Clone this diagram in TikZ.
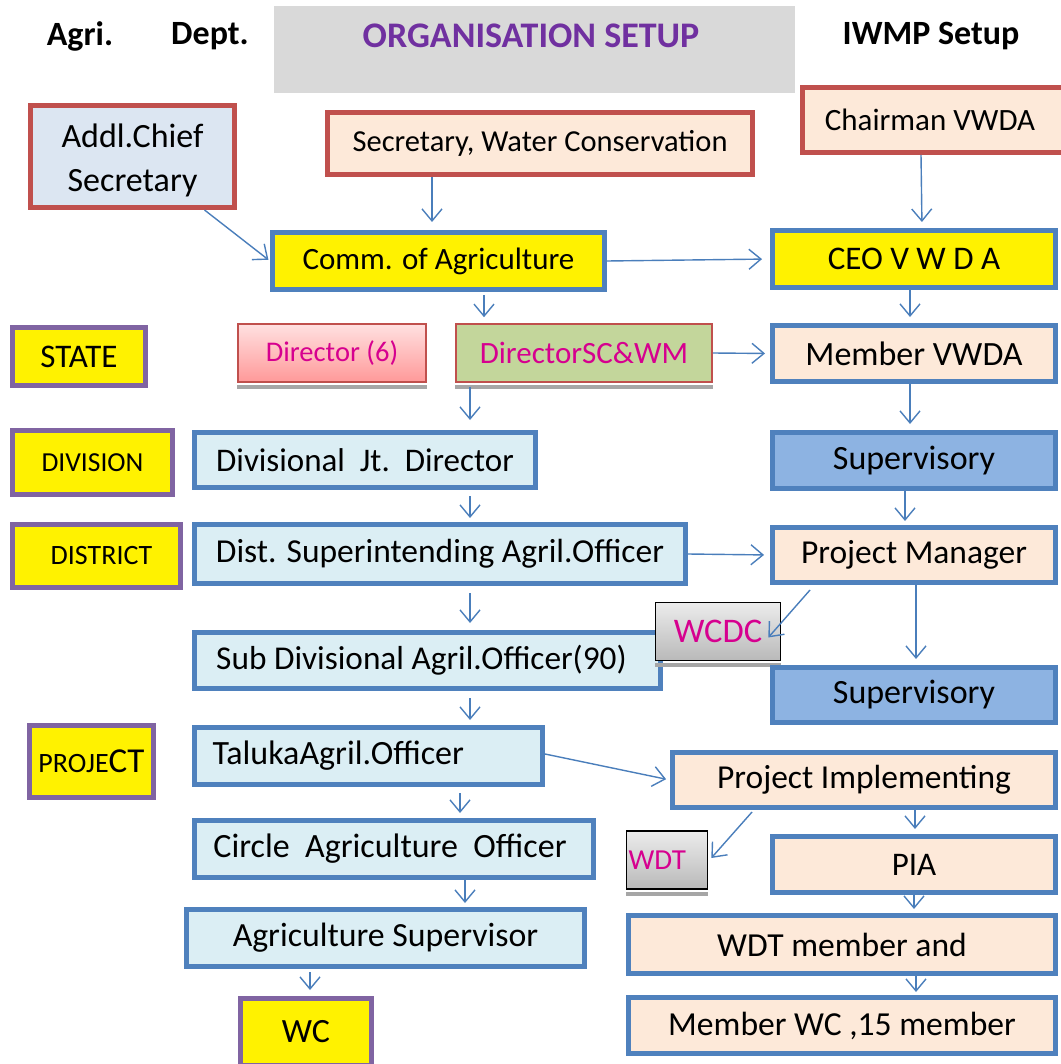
\documentclass[tikz,border=0pt]{standalone}
\usepackage{fontspec}
\setmainfont{Carlito}
\usetikzlibrary{arrows.meta,calc}
\definecolor{redb}{HTML}{C0504D}
\definecolor{blueb}{HTML}{4F81BD}
\definecolor{purb}{HTML}{8064A2}
\definecolor{peach}{HTML}{FDE9D9}
\definecolor{lblue}{HTML}{DBEEF4}
\definecolor{addl}{HTML}{DCE6F2}
\definecolor{supf}{HTML}{8DB3E2}
\definecolor{greenf}{HTML}{C3D69B}
\definecolor{grayh}{HTML}{D9D9D9}
\definecolor{purtext}{HTML}{7030A0}
\definecolor{mag}{HTML}{D6008F}
\definecolor{arrc}{HTML}{4A7EBB}
\newcommand\fz[1]{\fontsize{#1}{#1}\selectfont}
\begin{document}
\begin{tikzpicture}[x=1pt,y=-1pt,
  base/.style={rectangle, inner sep=0pt, line width=5pt, align=center},
  redbox/.style={base, draw=redb},
  bluebox/.style={base, draw=blueb},
  purbox/.style={base, draw=purb, fill=yellow},
  shadbox/.style={rectangle, inner sep=0pt, line width=1.6pt, text=mag},
  arr/.style={draw=arrc, line width=1.4pt, -{Straight Barb[length=12pt,width=20pt,line width=1.4pt]}},
  hdr/.style={inner sep=0pt, font=\fz{34}\bfseries}
]
\useasboundingbox (0,0) rectangle (1060,1064);

% header
\node[hdr] (agri) at (80,36) {Agri.};
\node[hdr] (dept) at (210,36) {Dept.};
\node[rectangle, fill=grayh, minimum width=521, minimum height=87, inner sep=0pt] (title) at (534.5,49.5) {};
\node[inner sep=0pt, text=purtext, font=\fz{36}\bfseries] (titletext) at (531,36) {ORGANISATION SETUP};
\node[hdr] (iwmp) at (931,36) {IWMP Setup};

% left / centre column
\node[redbox, fill=addl, minimum width=204, minimum height=102, font=\fz{34}] (acs) at (132.5,156.5) {\raisebox{-4pt}[\height][\depth]{Addl.Chief}\\[10pt]\raisebox{-4pt}[\height][\depth]{Secretary}};
\node[redbox, fill=peach, minimum width=425, minimum height=62, font=\fz{30.5}] (sec) at (540,143.5) {Secretary, Water Conservation};
\node[redbox, fill=peach, minimum width=261, minimum height=65, font=\fz{31}] (chair) at (933,120) {Chairman VWDA\hspace*{6pt}};
\node[bluebox, fill=yellow, minimum width=332, minimum height=57, font=\fz{31}] (comm) at (438.5,261) {Comm. of Agriculture};
\node[bluebox, fill=yellow, minimum width=283, minimum height=57, font=\fz{33}] (ceo) at (914,259) {CEO V W D A};

\node[purbox, minimum width=133, minimum height=58, font=\fz{33}] (state) at (79,356.5) {STATE};
\node[shadbox, draw=redb, top color=red!12, bottom color=red!40!white, minimum width=188, minimum height=58, font=\fz{28.5}] (dir6) at (332,353) {Director (6)};
\node[shadbox, draw=redb, fill=greenf, minimum width=256, minimum height=58, font=\fz{31}] (dirsc) at (584,353) {DirectorSC\&WM};
\fill[gray!70] (dir6.south west) ++(0,2) rectangle ++(190,4);
\fill[gray!70] (dirsc.south west) ++(0,2) rectangle ++(258,4);
\node[bluebox, fill=peach, minimum width=283, minimum height=56, font=\fz{34}] (mem) at (914,353.5) {Member VWDA};

\node[purbox, minimum width=160, minimum height=64, font=\fz{27.5}] (division) at (92.5,462.5) {DIVISION};
\node[bluebox, fill=lblue, minimum width=341, minimum height=55, font=\fz{33}] (divjt) at (365,460) {Divisional\ \ Jt.\ \ Director};
\node[bluebox, fill=supf, minimum width=283, minimum height=56, font=\fz{34}] (sup1) at (914,460.5) {Supervisory};

\node[purbox, minimum width=168, minimum height=63, font=\fz{28}] (district) at (96.5,556) {\hspace*{10pt}DISTRICT};
\node[bluebox, fill=lblue, minimum width=491, minimum height=59, font=\fz{33.5}] (dist) at (440,554) {Dist. Superintending Agril.Officer};
\node[bluebox, fill=peach, minimum width=283, minimum height=55, font=\fz{33.5}] (pm) at (914,555) {Project Manager};

\node[bluebox, fill=lblue, minimum width=466, minimum height=56, font=\fz{33.3}] (subdiv) at (427.5,660.5) {Sub Divisional Agril.Officer(90)\hspace*{12pt}};
\node[shadbox, draw=black, top color=gray!15, bottom color=gray!55, minimum width=125, minimum height=58, font=\fz{34.5}] (wcdc) at (718,631.5) {WCDC};
\fill[gray!70] (wcdc.south west) ++(0,2) rectangle ++(126,4);
\node[bluebox, fill=supf, minimum width=283, minimum height=55, font=\fz{34}] (sup2) at (914,695) {Supervisory};

\node[purbox, minimum width=124, minimum height=72] (project) at (91.5,761.5) {\fz{28}PROJE\fz{35}CT};
\node[bluebox, fill=lblue, minimum width=348, minimum height=57, font=\fz{34}, text width=312, inner xsep=18pt, align=left] (taluka) at (368.5,756) {TalukaAgril.Officer};
\node[bluebox, fill=peach, minimum width=383, minimum height=55, font=\fz{33.5}] (pimp) at (864,780) {Project Implementing};

\node[shadbox, draw=black, top color=gray!15, bottom color=gray!55, minimum width=81, minimum height=58, font=\fz{29}, text width=77, inner xsep=2pt, align=left] (wdt) at (667,860) {WDT};
\fill[gray!70] (wdt.south west) ++(0,2) rectangle ++(82,4);
\node[bluebox, fill=lblue, minimum width=399, minimum height=57, font=\fz{34}] (circle) at (394,849) {Circle\ \ Agriculture\ \ Officer\hspace*{8pt}};
\node[bluebox, fill=peach, minimum width=283, minimum height=56, font=\fz{33}] (pia) at (914,864.5) {PIA};

\node[bluebox, fill=lblue, minimum width=398, minimum height=57, font=\fz{33.8}] (agsup) at (385.5,938) {Agriculture Supervisor};
\node[bluebox, fill=peach, minimum width=427, minimum height=58, font=\fz{33.6}] (wdtm) at (842,944.5) {WDT member and};

\node[purbox, minimum width=131, minimum height=67, font=\fz{34}] (wc) at (306,1032) {WC};
\node[bluebox, fill=peach, minimum width=427, minimum height=56, font=\fz{33.6}] (memwc) at (842,1025.5) {Member WC ,15 member};

% connectors
\draw[arr, shorten >=2pt] ($(acs.south)+(72,0)$) -- (comm.west);
\draw[arr, shorten >=8pt] ($(sec.south)+(-108,0)$) -- ($(comm.north)+(-6.5,0)$);
\draw[arr, shorten >=8pt] (comm.east) -- (ceo.west);
\draw[arr, shorten >=6pt] ($(chair.south)+(-12,0)$) -- ($(ceo.north)+(8,0)$);
\draw[arr, shorten >=6pt, shorten <=3pt] ($(comm.south)+(45.5,0)$) -- ($(dirsc.north)+(-100,0)$);
\draw[arr, shorten >=6pt] ($(ceo.south)+(-4,0)$) -- ($(mem.north)+(-4,0)$);
\draw[arr, shorten >=5pt] (dirsc.east) -- (mem.west);
\draw[arr, shorten >=10pt, shorten <=4pt] ($(dirsc.south)+(-114,0)$) -- ($(divjt.north)+(105,0)$);
\draw[arr, shorten >=6pt] ($(mem.south)+(-4,0)$) -- ($(sup1.north)+(-4,0)$);
\draw[arr, shorten >=4pt, shorten <=6pt] ($(divjt.south)+(105,0)$) -- ($(dist.north)+(30,0)$);
\draw[arr, shorten >=4pt] ($(sup1.south)+(-9,0)$) -- ($(pm.north)+(-9,0)$);
\draw[arr, shorten >=6pt] (dist.east) -- (pm.west);
\draw[arr, shorten >=7pt, shorten <=7pt] ($(dist.south)+(30,0)$) -- ($(subdiv.north)+(42.5,0)$);
\draw[arr] ($(pm.south)+(-104,5)$) -- ($(wcdc.east)+(-13,6)$);
\draw[arr, shorten >=6pt] ($(pm.south)+(2,0)$) -- ($(sup2.north)+(2,0)$);
\draw[arr, shorten >=5pt, shorten <=7pt] ($(subdiv.south)+(42.5,0)$) -- ($(taluka.north)+(101.5,0)$);
\draw[arr, shorten >=4pt] ($(taluka.east)+(0,-2)$) -- (pimp.west);
\draw[arr, shorten >=5pt, shorten <=6pt] ($(taluka.south)+(91.5,0)$) -- ($(circle.north)+(66,0)$);
\draw[arr] ($(pimp.south)+(-112,2)$) -- ($(wdt.east)+(3,-2)$);
\draw[arr, shorten >=5pt] ($(pimp.south)+(51,0)$) -- ($(pia.north)+(1,0)$);
\draw[arr, shorten >=4pt] ($(circle.south)+(71,0)$) -- ($(agsup.north)+(79.5,0)$);
\draw[arr, shorten >=4pt] ($(pia.south)+(0,0)$) -- ($(wdtm.north)+(72,0)$);
\draw[arr, shorten >=6pt, shorten <=3pt] ($(agsup.south)+(-75.5,0)$) -- ($(wc.north)+(4,0)$);
\draw[arr, shorten >=3pt] ($(wdtm.south)+(74,0)$) -- ($(memwc.north)+(74,0)$);
\end{tikzpicture}
\end{document}
